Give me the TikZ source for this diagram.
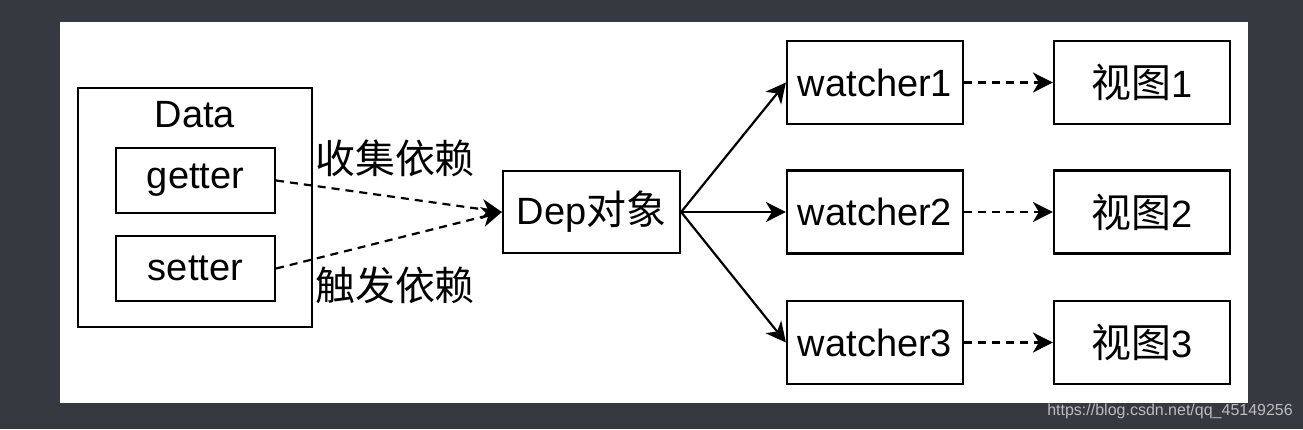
\documentclass[tikz,border=0pt]{standalone}
\usepackage{fontspec}
\setmainfont{Liberation Sans}
\newfontfamily\cjk[Scale=1.05]{Noto Sans CJK SC}
\usetikzlibrary{arrows.meta}
\definecolor{pagebg}{RGB}{54,57,63}
\definecolor{markgray}{RGB}{185,187,190}
\tikzset{
  box/.style={draw, line width=2.2pt, inner sep=0pt, minimum width=176pt,
    minimum height=83pt, font=\fontsize{38}{44}\selectfont},
  plain/.style={inner sep=0pt, font=\fontsize{38}{44}\selectfont},
  link/.style={line width=2.2pt, -{Stealth[length=20pt,width=20pt,inset=6pt]}},
  weak/.style={link, dash pattern=on 8pt off 6pt},
}
\begin{document}
\begin{tikzpicture}[x=1pt,y=-1pt]
      \fill[pagebg] (0,0) rectangle (1303,429);
      \fill[white] (60,22) rectangle (1248,403);
      \path
        (195,207.5) node[box, minimum width=234pt, minimum height=239pt] (data){}
        (195,115) node[plain] (title){Data}
        (195.5,180.5) node[box, minimum width=159pt, minimum height=65pt] (getter){getter}
        (195.5,268.5) node[box, minimum width=159pt, minimum height=65pt] (setter){setter}
        (591.5,212) node[box, minimum width=177pt, minimum height=82pt] (dep){Dep{\cjk 对象}}
        (875,82.5) node[box] (w1){watcher1}
        (875,212) node[box] (w2){watcher2}
        (875,342.5) node[box] (w3){watcher3}
        (1142,82.5) node[box] (v1){{\cjk 视图}1}
        (1142,212) node[box] (v2){{\cjk 视图}2}
        (1142,342.5) node[box] (v3){{\cjk 视图}3}
        (315,158) node[plain, anchor=west] (collect){\cjk 收集依赖}
        (315,285) node[plain, anchor=west] (trigger){\cjk 触发依赖}
        (1293,411) node[anchor=east, inner sep=0pt, text=markgray,
          font=\fontsize{16}{18}\selectfont] (mark){https://blog.csdn.net/qq\_45149256};
      \begin{scope}[weak]
        \draw (getter.east) to (dep.west);
        \draw (setter.east) to (dep.west);
        \draw (w1.east) to (v1.west);
        \draw (w2.east) to (v2.west);
        \draw (w3.east) to (v3.west);
      \end{scope}
      \begin{scope}[link]
        \draw (dep.east) to (w1.west);
        \draw (dep.east) to (w2.west);
        \draw (dep.east) to (w3.west);
      \end{scope}
    \end{tikzpicture}
\end{document}
